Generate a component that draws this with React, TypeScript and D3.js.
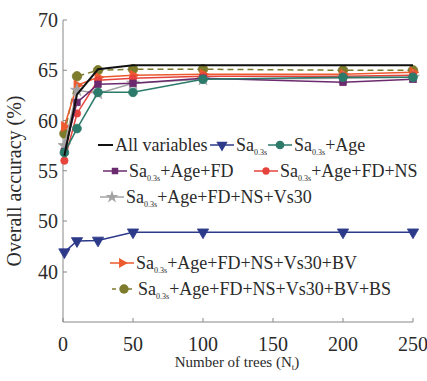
import React from 'react';
import * as d3 from 'd3';

// number of trees
const trees = [1, 10, 25, 50, 100, 200, 250];

// overall accuracy (%) per feature set
const allVars = [56.5, 62.6, 65.1, 65.5, 65.5, 65.5, 65.5];
const saOnly = [43.9, 46.1, 46.2, 47.8, 47.8, 47.8, 47.8];
const saAge = [56.8, 59.2, 62.8, 62.8, 64.1, 64.3, 64.3];
const saFD = [56.9, 61.8, 63.6, 63.7, 64.2, 63.8, 64.1];
const saNS = [56.0, 60.7, 64.0, 64.2, 64.4, 64.4, 64.5];
const saVs30 = [57.5, 63.0, 62.7, 63.7, 64.1, 64.2, 64.3];
const saBV = [59.4, 63.5, 64.3, 64.5, 64.6, 64.6, 64.8];
const saBS = [58.7, 64.4, 65.0, 65.1, 65.1, 65.0, 65.0];

const xTicks = [0, 50, 100, 150, 200, 250];
const yTicks = [40, 50, 55, 60, 65, 70];

type Series = {
  key: string;
  suffix: string | null; // text after Sa0.3s, null = plain label
  values: number[];
  color: string;
  symbol: d3.SymbolType | null;
  rotate: number;
  size: number;
  dashed?: boolean;
  lx: number; // legend position
  ly: number;
};

const series: Series[] = [
  { key: 'all', suffix: null, values: allVars, color: '#111', symbol: null, rotate: 0, size: 0, lx: 98, ly: 145 },
  { key: 'sa', suffix: '', values: saOnly, color: '#2d3a8a', symbol: d3.symbolTriangle, rotate: 180, size: 55, lx: 210, ly: 145 },
  { key: 'age', suffix: '+Age', values: saAge, color: '#2b7a6a', symbol: d3.symbolCircle, rotate: 0, size: 60, lx: 268, ly: 145 },
  { key: 'fd', suffix: '+Age+FD', values: saFD, color: '#6b2a6e', symbol: d3.symbolSquare, rotate: 0, size: 42, lx: 103, ly: 171 },
  { key: 'ns', suffix: '+Age+FD+NS', values: saNS, color: '#e5433c', symbol: d3.symbolCircle, rotate: 0, size: 42, lx: 254, ly: 171 },
  { key: 'vs30', suffix: '+Age+FD+NS+Vs30', values: saVs30, color: '#a3a3a3', symbol: d3.symbolStar, rotate: 0, size: 50, lx: 100, ly: 197 },
  { key: 'bv', suffix: '+Age+FD+NS+Vs30+BV', values: saBV, color: '#ec5a2e', symbol: d3.symbolTriangle, rotate: 90, size: 45, lx: 110, ly: 263 },
  { key: 'bs', suffix: '+Age+FD+NS+Vs30+BV+BS', values: saBS, color: '#7d7b2c', symbol: d3.symbolCircle, rotate: 0, size: 70, dashed: true, lx: 112, ly: 289 },
];

const W = 427;
const H = 381;
const x = d3.scaleLinear().domain([0, 250]).range([63, 413]);
// broken axis: 40-50 compressed
const y = d3.scaleLinear().domain([30, 40, 50, 70]).range([322, 272, 221, 20]);

const font = '"Liberation Serif", "Times New Roman", Times, "DejaVu Serif", serif';
const textColor = '#2a2a2a';
const axisColor = '#888';

const Label = ({ s, px, py }: { s: Series; px: number; py: number }) => {
  if (s.suffix === null) {
    return <text x={px} y={py} dy="0.35em" fontSize={18} fontFamily={font}>All variables</text>;
  }
  return (
    <text x={px} y={py} dy="0.35em" fontSize={18} fontFamily={font}>
      Sa<tspan fontSize={8} dy={4}>0.3s</tspan>
      <tspan dy={-4}>{s.suffix}</tspan>
    </text>
  );
};

const App = () => {
  const line = d3.line<number>()
    .x((_, i) => x(trees[i]))
    .y(d => y(d));
  const sym = (s: Series) => d3.symbol().type(s.symbol!).size(s.size)() || '';

  return (
    <svg width={W} height={H} style={{ position: 'absolute', left: 0, top: 0, background: '#fff' }}
      fill={textColor} fontFamily={font}>
      {/* axes */}
      <line x1={63} x2={63} y1={20} y2={322} stroke={axisColor} />
      <line x1={63} x2={413} y1={322} y2={322} stroke={axisColor} />
      {yTicks.map(t => (
        <g key={t}>
          <line x1={63} x2={67} y1={y(t)} y2={y(t)} stroke={axisColor} />
          <text x={58} y={y(t)} dy="0.35em" textAnchor="end" fontSize={20} fontFamily={font}>{t}</text>
        </g>
      ))}
      {xTicks.map(t => (
        <g key={t}>
          <line x1={x(t)} x2={x(t)} y1={322} y2={318} stroke={axisColor} />
          <text x={x(t)} y={344} dy="0.35em" textAnchor="middle" fontSize={20} fontFamily={font}>{t}</text>
        </g>
      ))}
      <text transform={`translate(14,${(20 + 322) / 2 + 10}) rotate(-90)`} textAnchor="middle" dy="0.35em"
        fontSize={20} fontFamily={font}>
        Overall accuracy (%)
      </text>
      <text x={237} y={367} textAnchor="middle" fontSize={15} fontFamily={font}>
        Number of trees (N<tspan fontSize={9} dy={3}>t</tspan><tspan dy={-3}>)</tspan>
      </text>

      {/* series lines (draw bottom first so black/olive stay on top) */}
      {[...series].reverse().map(s => (
        <g key={s.key}>
          <path d={line(s.values) || ''} fill="none" stroke={s.color}
            strokeWidth={s.key === 'all' ? 2 : 1.5}
            strokeDasharray={s.dashed ? '6,4' : undefined} />
          {s.symbol && s.values.map((v, i) => (
            <path key={i} d={sym(s)} fill={s.color} stroke={s.color} strokeWidth={0.8}
              transform={`translate(${x(trees[i])},${y(v)}) rotate(${s.rotate})`} />
          ))}
        </g>
      ))}

      {/* legend */}
      {series.map(s => {
        const len = s.key === 'all' ? 15 : 24;
        const cx = s.lx + len / 2;
        return (
          <g key={s.key + '-lg'}>
            <line x1={s.lx} x2={s.lx + len} y1={s.ly} y2={s.ly} stroke={s.color}
              strokeWidth={s.key === 'all' ? 2 : 1.5} strokeDasharray={s.dashed ? '4,4' : undefined} />
            {s.symbol && (
              <path d={sym(s)} fill={s.color} transform={`translate(${cx},${s.ly}) rotate(${s.rotate})`} />
            )}
            <Label s={s} px={s.lx + len + 2} py={s.ly} />
          </g>
        );
      })}
    </svg>
  );
};

export default App;
